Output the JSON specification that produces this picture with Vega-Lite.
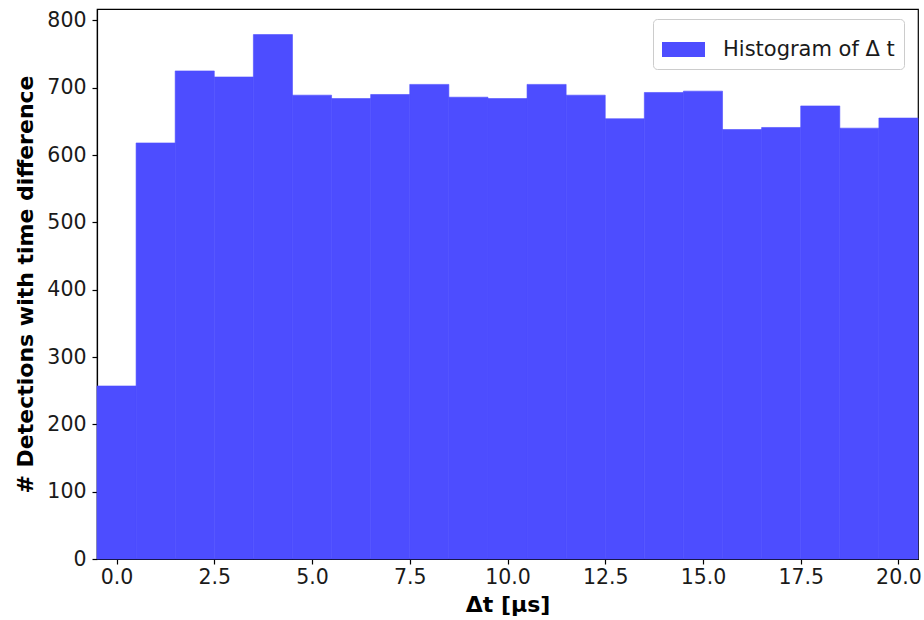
{
  "$schema": "https://vega.github.io/schema/vega-lite/v6.json",
  "autosize": {"type": "none"},
  "width": 821,
  "height": 550,
  "padding": {"left": 97, "top": 9, "right": 6, "bottom": 61},
  "background": "white",
  "config": {
    "font": "DejaVu Sans",
    "view": {"stroke": "black", "strokeWidth": 1.2},
    "axis": {
      "domainColor": "black",
      "domainWidth": 1.2,
      "tickColor": "black",
      "tickSize": 5,
      "tickWidth": 1.2,
      "labelColor": "#1a1a1a",
      "labelFont": "DejaVu Sans",
      "labelFontSize": 20.5,
      "titleFont": "DejaVu Sans",
      "titleFontSize": 22,
      "titleFontWeight": "bold",
      "titleColor": "black",
      "grid": false
    }
  },
  "data": {
    "values": [
      {"bin_start": -0.5, "bin_end": 0.5, "count": 257},
      {"bin_start": 0.5, "bin_end": 1.5, "count": 618},
      {"bin_start": 1.5, "bin_end": 2.5, "count": 725},
      {"bin_start": 2.5, "bin_end": 3.5, "count": 716},
      {"bin_start": 3.5, "bin_end": 4.5, "count": 779},
      {"bin_start": 4.5, "bin_end": 5.5, "count": 689},
      {"bin_start": 5.5, "bin_end": 6.5, "count": 684},
      {"bin_start": 6.5, "bin_end": 7.5, "count": 690},
      {"bin_start": 7.5, "bin_end": 8.5, "count": 705},
      {"bin_start": 8.5, "bin_end": 9.5, "count": 686},
      {"bin_start": 9.5, "bin_end": 10.5, "count": 684},
      {"bin_start": 10.5, "bin_end": 11.5, "count": 705},
      {"bin_start": 11.5, "bin_end": 12.5, "count": 689},
      {"bin_start": 12.5, "bin_end": 13.5, "count": 654},
      {"bin_start": 13.5, "bin_end": 14.5, "count": 693},
      {"bin_start": 14.5, "bin_end": 15.5, "count": 695},
      {"bin_start": 15.5, "bin_end": 16.5, "count": 638},
      {"bin_start": 16.5, "bin_end": 17.5, "count": 641},
      {"bin_start": 17.5, "bin_end": 18.5, "count": 673},
      {"bin_start": 18.5, "bin_end": 19.5, "count": 640},
      {"bin_start": 19.5, "bin_end": 20.5, "count": 655}
    ]
  },
  "mark": {"type": "bar", "opacity": 1, "stroke": "#4d4dff", "strokeWidth": 0.6},
  "encoding": {
    "x": {
      "field": "bin_start",
      "type": "quantitative",
      "scale": {"domain": [-0.5, 20.5], "nice": false, "zero": false},
      "axis": {
        "title": "Δt [μs]",
        "values": [0, 2.5, 5, 7.5, 10, 12.5, 15, 17.5, 20],
        "format": ".1f",
        "labelPadding": 3,
        "titlePadding": 7
      }
    },
    "x2": {"field": "bin_end"},
    "y": {
      "field": "count",
      "type": "quantitative",
      "scale": {"domain": [0, 817], "nice": false},
      "axis": {
        "title": "# Detections with time difference",
        "values": [0, 100, 200, 300, 400, 500, 600, 700, 800],
        "labelPadding": 6,
        "titlePadding": 9
      }
    },
    "y2": {"datum": 0},
    "color": {
      "datum": "Histogram of Δ t",
      "type": "nominal",
      "scale": {"range": ["#4d4dff"]},
      "legend": {
        "title": null,
        "orient": "none",
        "legendX": 556,
        "legendY": 10,
        "padding": 9,
        "strokeColor": "#cccccc",
        "fillColor": "white",
        "cornerRadius": 4,
        "symbolType": "M-1,-0.35L1,-0.35L1,0.35L-1,0.35Z",
        "symbolSize": 1849,
        "symbolStrokeWidth": 0,
        "symbolOpacity": 1,
        "labelFontSize": 21,
        "labelFont": "DejaVu Sans",
        "labelColor": "#1a1a1a",
        "labelOffset": 18,
        "labelLimit": 400
      }
    }
  }
}
